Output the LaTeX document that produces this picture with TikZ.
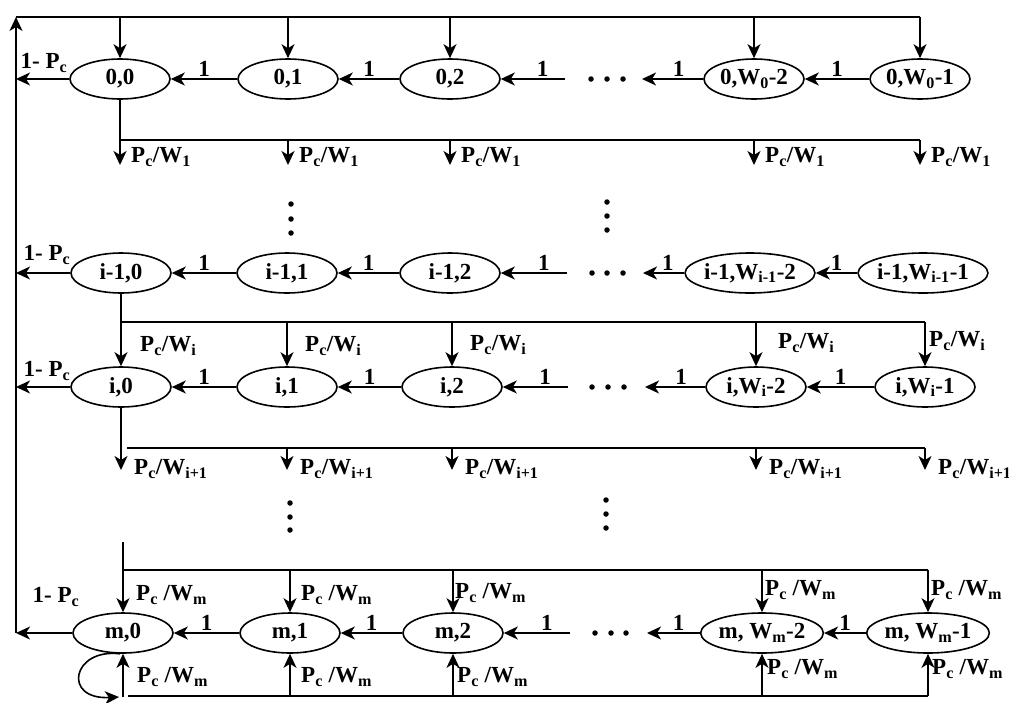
\documentclass[tikz,border=0pt]{standalone}
\usepackage{fontspec}
\setmainfont{Liberation Serif}
\usetikzlibrary{shapes.geometric,arrows.meta,calc}
\newcommand\lblfont{\fontsize{23}{26}\selectfont\bfseries}
\tikzset{
  st/.style={ellipse, draw, line width=1.6pt, minimum width=100pt, minimum height=40pt, inner sep=0pt, font=\lblfont},
  arr/.style={line width=1.6pt, -{Stealth[length=14pt,width=13pt,inset=4pt]}},
  ln/.style={line width=1.6pt},
  lab/.style={font=\lblfont, inner sep=0pt},
  lw/.style={lab, anchor=west},
  one/.style={lab, above=2pt},
  dot/.style={circle, fill, inner sep=0pt, minimum size=5.5pt},
}
\begin{document}
\begin{tikzpicture}[x=1pt,y=-1pt]
\useasboundingbox (0,0) rectangle (1009,702);
% coordinates of frame
\coordinate (LT) at (16,17);
\coordinate (LB) at (16,633);
\coordinate (H1) at (0,140);
\coordinate (H2) at (0,322);
\coordinate (H3) at (0,448);
\coordinate (H4) at (0,570);
\coordinate (H5) at (0,696);

% ---------------- row 0
\node[st] (n00) at (120,79) {0,0};
\node[st] (n01) at (288,79) {0,1};
\node[st] (n02) at (450,79) {0,2};
\node[st] (n03) at (754,79) {0,W\textsubscript{0}-2};
\node[st] (n04) at (920,79) {0,W\textsubscript{0}-1};
\draw[arr] (n01.west) -- node[one]{1} (n00.east);
\draw[arr] (n02.west) -- node[one]{1} (n01.east);
\coordinate (a0) at (565,79);
\coordinate (b0) at (642,79);
\draw[arr] (a0) -- node[one, pos=0.35]{1} (n02.east);
\node[dot] (h0a) at (591,79) {};
\node[dot] (h0b) at (607,79) {};
\node[dot] (h0c) at (623,79) {};
\draw[arr] (n03.west) -- node[one, pos=0.4]{1} (b0);
\draw[arr] (n04.west) -- node[one]{1} (n03.east);
\draw[arr] (n00.west) -- (n00.west -| LT);
\node[lab] (p0) at (44,63) {1- P\textsubscript{c}};
% top feedback line
\draw[arr] (LB) -- (LT);
\draw[ln] (LT) -- (n04.north |- LT);
\foreach \n in {n00,n01,n02,n03,n04} \draw[arr] (\n.north |- LT) -- (\n.north);
% down from row 0
\draw[arr] (n00.south) -- ($(n00 |- H1)+(0,25)$);
\draw[ln] (n00 |- H1) -- (n04 |- H1);
\foreach \n in {n01,n02,n03,n04} \draw[arr] (\n |- H1) -- ++(0,25);
\foreach \n in {n00,n01,n02,n03,n04} \node[lw] at ($(\n |- H1)+(11,17)$) {P\textsubscript{c}/W\textsubscript{1}};

% vertical dots
\node[dot] (v1a) at (291,204) {};
\node[dot] (v1b) at (291,219) {};
\node[dot] (v1c) at (291,233) {};
\node[dot] (v2a) at (607,202) {};
\node[dot] (v2b) at (607,216) {};
\node[dot] (v2c) at (607,230) {};

% ---------------- row i-1
\node[st] (n10) at (121,273) {i-1,0};
\node[st] (n11) at (287,273) {i-1,1};
\node[st] (n12) at (450,273) {i-1,2};
\node[st] (n13) at (750,273) {i-1,W\textsubscript{i-1}-2};
\node[st] (n14) at (923,273) {i-1,W\textsubscript{i-1}-1};
\draw[arr] (n11.west) -- node[one]{1} (n10.east);
\draw[arr] (n12.west) -- node[one]{1} (n11.east);
\coordinate (a1) at (567,273);
\coordinate (b1) at (643,273);
\draw[arr] (a1) -- node[one, pos=0.35]{1} (n12.east);
\node[dot] (h1a) at (592,273) {};
\node[dot] (h1b) at (607,273) {};
\node[dot] (h1c) at (623,273) {};
\draw[arr] (n13.west) -- node[one, pos=0.4]{1} (b1);
\draw[arr] (n14.west) -- node[one]{1} (n13.east);
\draw[arr] (n10.west) -- (n10.west -| LT);
\node[lab] (p1) at (47,255) {1- P\textsubscript{c}};

% ---------------- row i
\node[st] (n20) at (121,387) {i,0};
\node[st] (n21) at (287,387) {i,1};
\node[st] (n22) at (452,387) {i,2};
\node[st] (n23) at (756,387) {i,W\textsubscript{i}-2};
\node[st] (n24) at (925,387) {i,W\textsubscript{i}-1};
\draw[arr] (n21.west) -- node[one]{1} (n20.east);
\draw[arr] (n22.west) -- node[one]{1} (n21.east);
\coordinate (a2) at (568,387);
\coordinate (b2) at (645,387);
\draw[arr] (a2) -- node[one, pos=0.35]{1} (n22.east);
\node[dot] (h2a) at (592,387) {};
\node[dot] (h2b) at (608,387) {};
\node[dot] (h2c) at (624,387) {};
\draw[arr] (n23.west) -- node[one, pos=0.4]{1} (b2);
\draw[arr] (n24.west) -- node[one]{1} (n23.east);
\draw[arr] (n20.west) -- (n20.west -| LT);
\node[lab] (p2) at (47,371) {1- P\textsubscript{c}};
% row i-1 -> row i
\draw[arr] (n10.south) -- (n20.north);
\draw[ln] (n10 |- H2) -- (n24 |- H2);
\foreach \n in {n21,n22,n23,n24} \draw[arr] (\n |- H2) -- (\n.north);
\node[lw] at (140,346) {P\textsubscript{c}/W\textsubscript{i}};
\node[lw] at (305,346) {P\textsubscript{c}/W\textsubscript{i}};
\node[lw] at (470,345) {P\textsubscript{c}/W\textsubscript{i}};
\node[lw] at (778,343) {P\textsubscript{c}/W\textsubscript{i}};
\node[lw] at (929,341) {P\textsubscript{c}/W\textsubscript{i}};
% row i down
\draw[arr] (n20.south) -- ($(n20 |- H3)+(0,22)$);
\draw[ln] ($(n20 |- H3)+(6,0)$) -- (n24 |- H3);
\foreach \n in {n21,n22,n23,n24} \draw[arr] (\n |- H3) -- ++(0,22);
\foreach \n in {n20,n21,n22,n23,n24} \node[lw] at ($(\n |- H3)+(13,21)$) {P\textsubscript{c}/W\textsubscript{i+1}};

% vertical dots
\node[dot] (v3a) at (290,503) {};
\node[dot] (v3b) at (290,517) {};
\node[dot] (v3c) at (290,530) {};
\node[dot] (v4a) at (606,500) {};
\node[dot] (v4b) at (606,514) {};
\node[dot] (v4c) at (606,528) {};

% ---------------- row m
\node[st] (n30) at (123,633) {m,0};
\node[st] (n31) at (290,633) {m,1};
\node[st] (n32) at (453,633) {m,2};
\node[st] (n33) at (762,633) {m, W\textsubscript{m}-2};
\node[st] (n34) at (928,633) {m, W\textsubscript{m}-1};
\draw[arr] (n31.west) -- node[one]{1} (n30.east);
\draw[arr] (n32.west) -- node[one]{1} (n31.east);
\coordinate (a3) at (570,633);
\coordinate (b3) at (647,633);
\draw[arr] (a3) -- node[one, pos=0.35]{1} (n32.east);
\node[dot] (h3a) at (595,633) {};
\node[dot] (h3b) at (611,633) {};
\node[dot] (h3c) at (626,633) {};
\draw[arr] (n33.west) -- node[one, pos=0.4]{1} (b3);
\draw[arr] (n34.west) -- node[one]{1} (n33.east);
\draw[arr] (n30.west) -- (LB);
\node[lab] (p3) at (56,597) {1- P\textsubscript{c}};
% feed into row m
\coordinate (M0) at (123,542);
\draw[arr] (M0) -- (n30.north);
\draw[ln] (n30 |- H4) -- (n34 |- H4);
\foreach \n in {n31,n32,n33,n34} \draw[arr] (\n |- H4) -- (\n.north);
\node[lw] at (136,595) {P\textsubscript{c} /W\textsubscript{m}};
\node[lw] at (301,595) {P\textsubscript{c} /W\textsubscript{m}};
\node[lw] at (455,593) {P\textsubscript{c} /W\textsubscript{m}};
\node[lw] at (765,590) {P\textsubscript{c} /W\textsubscript{m}};
\node[lw] at (931,590) {P\textsubscript{c} /W\textsubscript{m}};
% bottom line and up arrows
\coordinate (M1) at (123,697);
\draw[ln] ($(n30 |- H5)+(5,0)$) -- (n34 |- H5);
\draw[arr] (M1) -- (n30.south);
\foreach \n in {n31,n32,n33,n34} \draw[arr] (\n |- H5) -- (\n.south);
\coordinate (L1) at (119,697);
\draw[arr] ([xshift=-3pt]n30.south) .. controls (72,648) and (62,700) .. (L1);
\node[lw] at (137,677) {P\textsubscript{c} /W\textsubscript{m}};
\node[lw] at (301,677) {P\textsubscript{c} /W\textsubscript{m}};
\node[lw] at (457,677) {P\textsubscript{c} /W\textsubscript{m}};
\node[lw] at (767,669) {P\textsubscript{c} /W\textsubscript{m}};
\node[lw] at (932,669) {P\textsubscript{c} /W\textsubscript{m}};
\end{tikzpicture}
\end{document}
